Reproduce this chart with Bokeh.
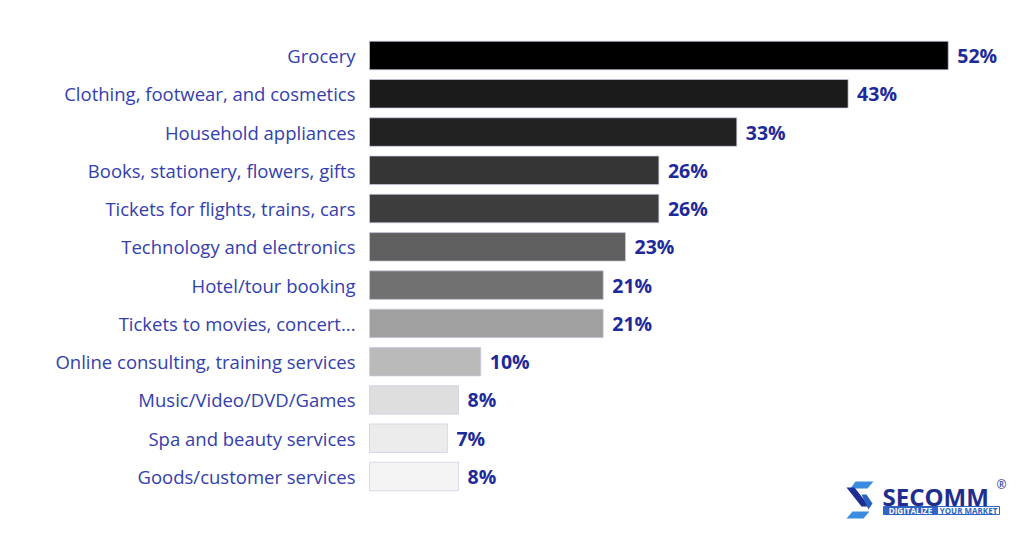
from bokeh.plotting import figure
from bokeh.models import Range1d, ColumnDataSource
from bokeh.core.properties import value
from bokeh.embed import file_html
from bokeh.resources import INLINE

categories = [
    "Grocery",
    "Clothing, footwear, and cosmetics",
    "Household appliances",
    "Books, stationery, flowers, gifts",
    "Tickets for flights, trains, cars",
    "Technology and electronics",
    "Hotel/tour booking",
    "Tickets to movies, concert...",
    "Online consulting, training services",
    "Music/Video/DVD/Games",
    "Spa and beauty services",
    "Goods/customer services",
]
values = [52, 43, 33, 26, 26, 23, 21, 21, 10, 8, 7, 8]
bar_colors = ["#000000", "#1b1b1b", "#222222", "#353535", "#3d3d3d", "#5f5f5f",
              "#717171", "#a0a0a0", "#bababa", "#dedede", "#ececec", "#f4f4f4"]
value_labels = [f"{v}%" for v in values]

W, H = 1016, 530
PX = 11.13          # pixels per percent
X0 = 369            # frame pixel of value 0
ROW = 38.27         # pixels per category row
Y0 = 55             # frame pixel of first row centre

x_start = -X0 / PX
x_end = (W - X0) / PX
y_top = -Y0 / ROW
y_bot = (len(categories) - 1) + (H - (Y0 + ROW * (len(categories) - 1))) / ROW

p = figure(width=W, height=H, output_backend="svg", toolbar_location=None,
           x_range=Range1d(x_start, x_end), y_range=Range1d(y_bot, y_top),
           min_border=0, min_border_left=0, min_border_right=0,
           min_border_top=0, min_border_bottom=0)
p.axis.visible = False
p.grid.visible = False
p.outline_line_color = None
p.background_fill_color = "white"
p.border_fill_color = "white"

idx = list(range(len(categories)))
src = ColumnDataSource(dict(y=idx, v=values, c=bar_colors, cat=categories, lab=value_labels))

p.hbar(y="y", left=0, right="v", height=0.745, fill_color="c",
       line_color="#c9cce0", line_width=1, line_alpha=0.7, source=src)

p.text(x=0, y="y", text="cat", source=src, x_offset=-14,
       text_align="right", text_baseline="middle",
       text_font=value("Open Sans"), text_font_size="18.5px", text_color="#3340ad")

p.text(x="v", y="y", text="lab", source=src, x_offset=9,
       text_align="left", text_baseline="middle",
       text_font=value("Open Sans"), text_font_style="bold",
       text_font_size="19.5px", text_color="#1d2a9a")

# ---- logo (decoration), positioned by page pixels ----
def X(px):
    return (px - X0) / PX

def Y(py):
    return (py - Y0) / ROW

def poly(pts, color):
    p.patch([X(a) for a, b in pts], [Y(b) for a, b in pts], fill_color=color, line_color=None)

poly([(855, 481), (873, 481), (867, 488), (850, 488)], "#3b8be0")
poly([(846, 487), (854, 487), (869, 506), (861, 506)], "#1d2f93")
poly([(861, 494), (866, 494), (872, 503), (868, 509)], "#2a62c2")
poly([(852, 511), (869, 511), (863, 518), (846, 518)], "#3b8be0")

p.text(x=[X(882)], y=[Y(496)], text=["SECOMM"], text_align="left", text_baseline="middle",
       text_font=value("Open Sans"), text_font_style="bold", text_font_size="24px",
       text_color="#1e2d8e")
p.text(x=[X(996)], y=[Y(484)], text=["®"], text_align="left", text_baseline="middle",
       text_font=value("Open Sans"), text_font_size="12px", text_color="#1e2d8e")
p.quad(left=[X(883)], right=[X(937)], top=[Y(506)], bottom=[Y(514)],
       fill_color="#2f63c4", line_color="#2f63c4")
p.quad(left=[X(937)], right=[X(999)], top=[Y(506)], bottom=[Y(514)],
       fill_color="white", line_color="#2f63c4", line_width=1)
p.text(x=[X(910)], y=[Y(510.2)], text=["DIGITALIZE"], text_align="center", text_baseline="middle",
       text_font=value("Open Sans"), text_font_style="bold", text_font_size="8px",
       text_color="white")
p.text(x=[X(968)], y=[Y(510.2)], text=["YOUR MARKET"], text_align="center", text_baseline="middle",
       text_font=value("Open Sans"), text_font_style="bold", text_font_size="8px",
       text_color="#2f63c4")

open("out.html", "w").write(file_html(p, INLINE))
